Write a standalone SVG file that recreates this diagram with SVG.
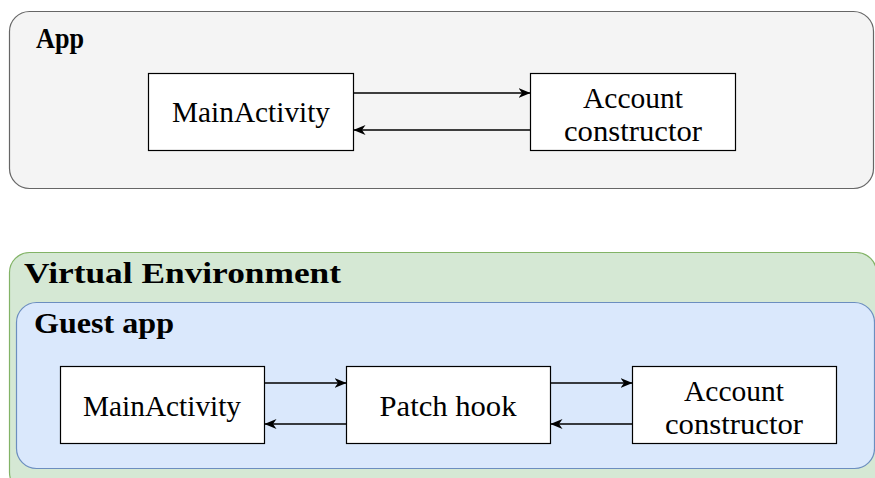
<svg xmlns="http://www.w3.org/2000/svg" width="875" height="478" viewBox="0 0 875 478">
<defs>
<marker id="ah" viewBox="0 0 12 11" refX="11.5" refY="5.5" markerWidth="12" markerHeight="11" markerUnits="userSpaceOnUse" orient="auto">
<path d="M0,0.5 L12,5.5 L0,10.5 L3.5,5.5 Z" fill="#000"/>
</marker>
</defs>
<style>
.node{fill:#fff;stroke:#000;stroke-width:1.2}
.t{font-family:"Liberation Serif","DejaVu Serif",serif;font-size:29px;fill:#000}
.b{font-family:"Liberation Serif","DejaVu Serif",serif;font-size:29px;font-weight:bold;fill:#000}
.c{text-anchor:middle}
.e{stroke:#000;stroke-width:1.4;fill:none;marker-end:url(#ah)}
</style>
<g id="app">
<rect x="9.5" y="11.5" width="864" height="177" rx="20" fill="#f4f4f4" stroke="#666" stroke-width="1.2"/>
<text class="b" x="36" y="48" textLength="48" lengthAdjust="spacingAndGlyphs">App</text>
</g>
<g id="venv">
<rect x="9.5" y="252.5" width="867" height="240" rx="20" fill="#d5e8d4" stroke="#82b366" stroke-width="1.2"/>
<text class="b" x="24" y="283" textLength="317" lengthAdjust="spacingAndGlyphs">Virtual Environment</text>
</g>
<g id="guest">
<rect x="16.5" y="302.5" width="858" height="166" rx="20" fill="#dae8fc" stroke="#6c8ebf" stroke-width="1.2"/>
<text class="b" x="34" y="333" textLength="140" lengthAdjust="spacingAndGlyphs">Guest app</text>
</g>
<g id="main1">
<rect class="node" x="148.5" y="73.5" width="205" height="77"/>
<text class="t c" x="251" y="122" textLength="158" lengthAdjust="spacingAndGlyphs">MainActivity</text>
</g>
<g id="acct1">
<rect class="node" x="530.5" y="73.5" width="205" height="77"/>
<text class="t c" x="633" y="108" textLength="100" lengthAdjust="spacingAndGlyphs">Account</text>
<text class="t c" x="633" y="141" textLength="138" lengthAdjust="spacingAndGlyphs">constructor</text>
</g>
<g id="main2">
<rect class="node" x="60.5" y="366.5" width="204" height="77"/>
<text class="t c" x="162" y="416" textLength="158" lengthAdjust="spacingAndGlyphs">MainActivity</text>
</g>
<g id="patch">
<rect class="node" x="346.5" y="366.5" width="204" height="77"/>
<text class="t c" x="448" y="416" textLength="137" lengthAdjust="spacingAndGlyphs">Patch hook</text>
</g>
<g id="acct2">
<rect class="node" x="632.5" y="366.5" width="204" height="77"/>
<text class="t c" x="734" y="401" textLength="100" lengthAdjust="spacingAndGlyphs">Account</text>
<text class="t c" x="734" y="434" textLength="138" lengthAdjust="spacingAndGlyphs">constructor</text>
</g>
<g id="connectors">
<line class="e" x1="354" y1="93" x2="530" y2="93"/>
<line class="e" x1="530" y1="130" x2="354" y2="130"/>
<line class="e" x1="265" y1="383" x2="346" y2="383"/>
<line class="e" x1="346" y1="424" x2="265" y2="424"/>
<line class="e" x1="551" y1="383" x2="632" y2="383"/>
<line class="e" x1="632" y1="424" x2="551" y2="424"/>
</g>
</svg>
